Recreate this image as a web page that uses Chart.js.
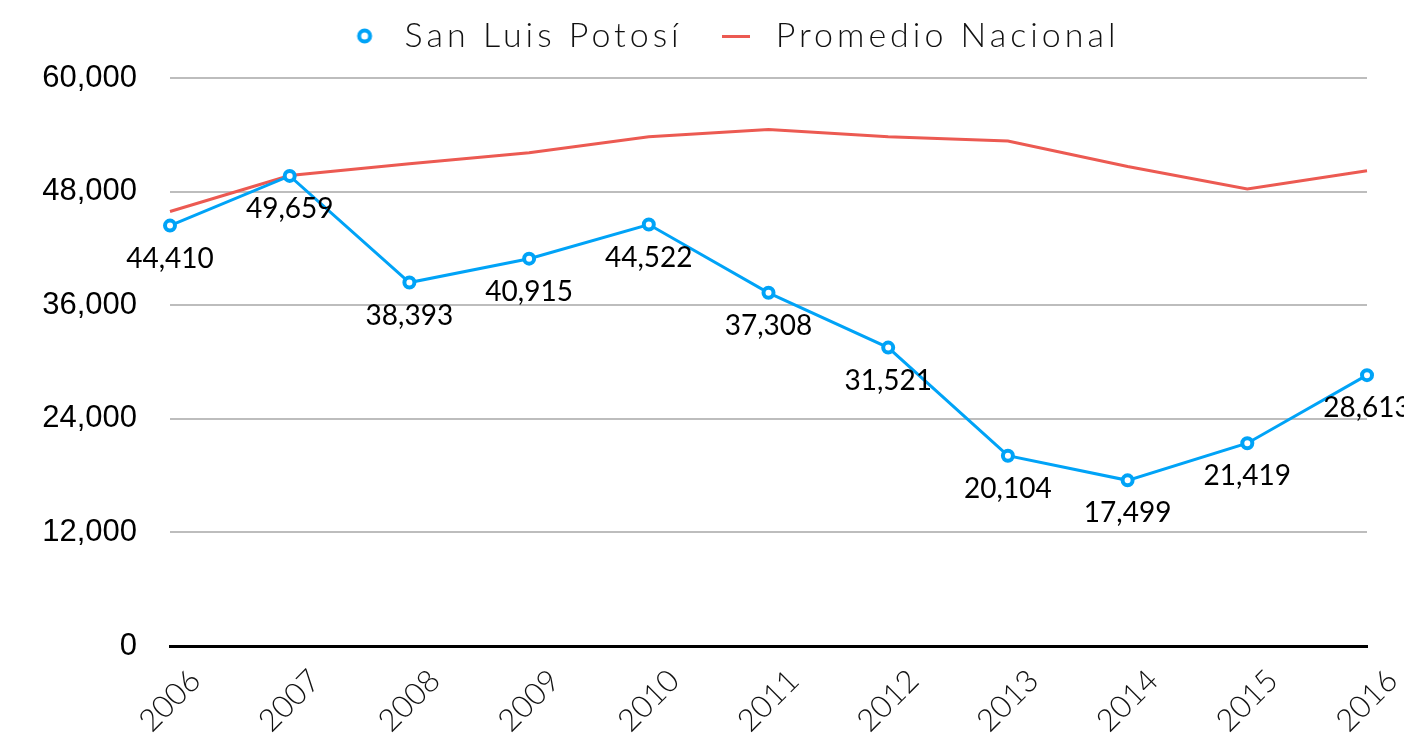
<!DOCTYPE html>
<html>
<head>
<meta charset="utf-8">
<script src="https://cdn.jsdelivr.net/npm/chart.js@4"></script>
<style>
    html, body { margin: 0; padding: 0; background: #ffffff; }
    #wrap { width: 1404px; height: 736px; }
</style>
</head>
<body>
<div id="wrap"><canvas id="chart-1" width="1404" height="736"></canvas></div>
<script>
const years = ["2006", "2007", "2008", "2009", "2010", "2011", "2012", "2013", "2014", "2015", "2016"];
const sanLuisPotosi = [44410, 49659, 38393, 40915, 44522, 37308, 31521, 20104, 17499, 21419, 28613];
const promedioNacional = [45900, 49700, 50950, 52100, 53800, 54550, 53800, 53350, 50650, 48280, 50200];
const yTicks = [0, 12000, 24000, 36000, 48000, 60000];

const BLUE = "#00a3f7";
const RED = "#ec5a52";

function fmt(v) {
    return v.toLocaleString("en-US");
}

/**
 * Petits dessins pour la légende (cercle creux et trait)
 */
function legendCircle() {
    const c = document.createElement("canvas");
    c.width = 20; c.height = 20;
    const ctx = c.getContext("2d");
    ctx.beginPath();
    ctx.arc(10, 10, 5.5, 0, Math.PI * 2);
    ctx.fillStyle = "#ffffff";
    ctx.fill();
    ctx.lineWidth = 4;
    ctx.strokeStyle = BLUE;
    ctx.stroke();
    return c;
}

function legendLine() {
    const c = document.createElement("canvas");
    c.width = 28; c.height = 4;
    const ctx = c.getContext("2d");
    ctx.fillStyle = RED;
    ctx.fillRect(0, 1, 28, 3);
    return c;
}

// légende un peu plus large et décalée, comme sur l'original
const legendTweak = {
    id: "legendTweak",
    afterInit(chart) {
        const legend = chart.legend;
        const origFit = legend.fit;
        const origDraw = legend.draw;
        legend.fit = function() {
            this.ctx.save();
            this.ctx.letterSpacing = "4px";
            origFit.call(this);
            this.ctx.restore();
            this.height += 4;
        };
        legend.draw = function() {
            this.ctx.save();
            this.ctx.letterSpacing = "4px";
            this.ctx.translate(47, -11);
            origDraw.call(this);
            this.ctx.restore();
        };
    }
};

// étiquettes de valeurs sous les points + années inclinées
const labelsPlugin = {
    id: "labelsPlugin",
    afterDatasetsDraw(chart) {
        const ctx = chart.ctx;
        const meta = chart.getDatasetMeta(0);
        ctx.save();
        ctx.fillStyle = "#000000";
        ctx.font = "400 28px Lato";
        ctx.textAlign = "center";
        ctx.textBaseline = "middle";
        meta.data.forEach(function(pt, i) {
            ctx.fillText(fmt(sanLuisPotosi[i]), pt.x, pt.y + 33);
        });
        ctx.restore();

        const xScale = chart.scales.x;
        ctx.save();
        ctx.fillStyle = "#111111";
        ctx.font = "300 31px Lato";
        ctx.textAlign = "center";
        ctx.textBaseline = "middle";
        years.forEach(function(y, i) {
            const px = xScale.getPixelForValue(i);
            ctx.save();
            ctx.translate(px, 701);
            ctx.rotate(-Math.PI / 4);
            ctx.fillText(y, 0, 0);
            ctx.restore();
        });
        ctx.restore();
    }
};

const dataChart = {
    labels: years,
    datasets: [{
        label: "San Luis Potosí",
        data: sanLuisPotosi,
        borderColor: BLUE,
        backgroundColor: "#ffffff",
        borderWidth: 3,
        pointRadius: 5,
        pointBorderWidth: 4,
        pointBackgroundColor: "#ffffff",
        pointBorderColor: BLUE,
        pointStyle: "circle",
        tension: 0
    }, {
        label: "Promedio Nacional",
        data: promedioNacional,
        borderColor: RED,
        backgroundColor: RED,
        borderWidth: 3,
        pointRadius: 0,
        pointStyle: "line",
        tension: 0
    }]
};

const configChart = {
    type: "line",
    data: dataChart,
    options: {
        responsive: false,
        animation: false,
        devicePixelRatio: 1,
        layout: {
            padding: { left: 0, right: 37, top: 0, bottom: 0 }
        },
        plugins: {
            tooltip: { enabled: false },
            legend: {
                position: "top",
                align: "center",
                labels: {
                    usePointStyle: true,
                    pointStyleWidth: 46,
                    boxHeight: 14,
                    padding: 30,
                    color: "#111111",
                    font: { family: "Lato", size: 34, weight: "300" },
                    generateLabels: function(chart) {
                        const items = Chart.defaults.plugins.legend.labels.generateLabels(chart);
                        items[0].pointStyle = legendCircle();
                        items[1].pointStyle = legendLine();
                        return items;
                    }
                }
            }
        },
        scales: {
            x: {
                type: "category",
                offset: false,
                grid: { display: false, drawTicks: false },
                border: { display: true, color: "#000000", width: 3 },
                ticks: { display: false },
                afterFit: function(scale) { scale.height = 90; }
            },
            y: {
                min: 0,
                max: 60000,
                afterBuildTicks: function(scale) {
                    scale.ticks = yTicks.map(function(v) { return { value: v }; });
                },
                grid: { color: "#bdbdbd", lineWidth: 2, drawTicks: false },
                border: { display: false },
                ticks: {
                    padding: 33,
                    color: "#000000",
                    font: { family: "Liberation Sans", size: 31 },
                    callback: function(v) { return fmt(v); }
                },
                afterFit: function(scale) { scale.width = 170; }
            }
        }
    },
    plugins: [legendTweak, labelsPlugin]
};

const chart = new Chart(document.getElementById("chart-1"), configChart);
</script>
</body>
</html>
